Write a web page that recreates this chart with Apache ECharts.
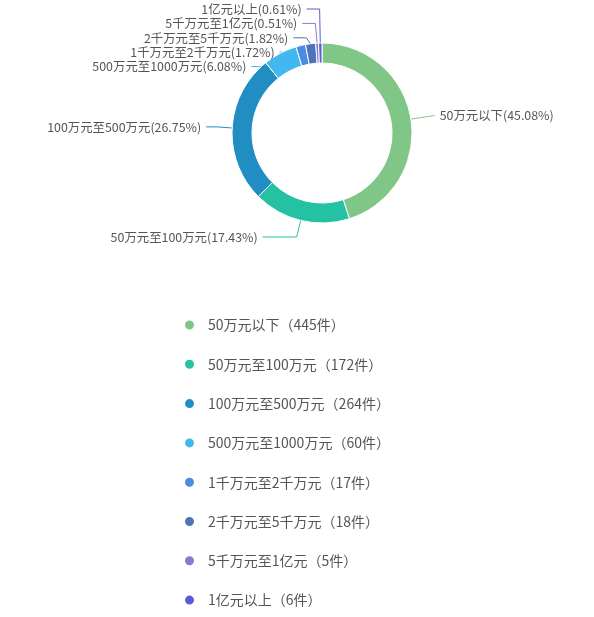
<!DOCTYPE html>
<html><head><meta charset="utf-8">
<script src="https://cdn.jsdelivr.net/npm/echarts@6/dist/echarts.min.js"></script>
<style>html,body{margin:0;padding:0;background:#fff}#c{width:594px;height:617px}</style>
</head><body><div id="c"></div>
<script>
const categories = ['50万元以下','50万元至100万元','100万元至500万元','500万元至1000万元','1千万元至2千万元','2千万元至5千万元','5千万元至1亿元','1亿元以上'];
const counts = [445,172,264,60,17,18,5,6];
const colors = ['#80c687','#24c1a2','#208dc3','#41b9ef','#4a8be3','#4d74b6','#8a78d0','#5b5bd4'];
const lineLen = [22,17,20,34,34,34,34,34];
const lineLen2 = [2,34,11,13,13,13,13,13];
const CENTER = [322,133];
const RADIUS = [70,90];
const FONT = '"Noto Sans CJK SC", sans-serif';
const chart = echarts.init(document.getElementById('c'));
const data = categories.map((n,i)=>({name:n,value:counts[i],labelLine:{length:lineLen[i],length2:lineLen2[i]}}));
chart.setOption({
  color: colors,
  textStyle:{fontFamily:FONT},
  legend:{
    orient:'vertical', left:178, top:312, height:300, itemWidth:27, itemHeight:11, itemGap:23.3,
    icon:'circle',
    textStyle:{fontSize:14,lineHeight:16,color:'#555',fontFamily:FONT},
    formatter:function(n){const i=categories.indexOf(n);return n+'（'+counts[i]+'件）';}
  },
  series:[{
    type:'pie', center:CENTER, radius:RADIUS, startAngle:90, clockwise:true,
    percentPrecision:2,
    itemStyle:{borderColor:'#fff',borderWidth:1},
    label:{formatter:'{t|{b}({d}%)}',fontSize:12.4,color:'#555',fontFamily:FONT,
      rich:{t:{fontSize:12.4,lineHeight:10,color:'#555',fontFamily:FONT}}},
    labelLayout:function(p){
      const i=p.dataIndex;
      if(i<3 || !p.labelLinePoints) return {};
      const pts=p.labelLinePoints;
      const r=RADIUS[1];
      const ex=CENTER[0]+(pts[0][0]-CENTER[0])*(r+lineLen[i])/r;
      const ym=p.labelRect.y+p.labelRect.height/2;
      return {x:ex-lineLen2[i]-5,y:ym,align:'right',verticalAlign:'middle',
        labelLinePoints:[[pts[0][0],pts[0][1]],[ex,ym],[ex-lineLen2[i],ym]]};
    },
    data:data
  }]
});
</script></body></html>
